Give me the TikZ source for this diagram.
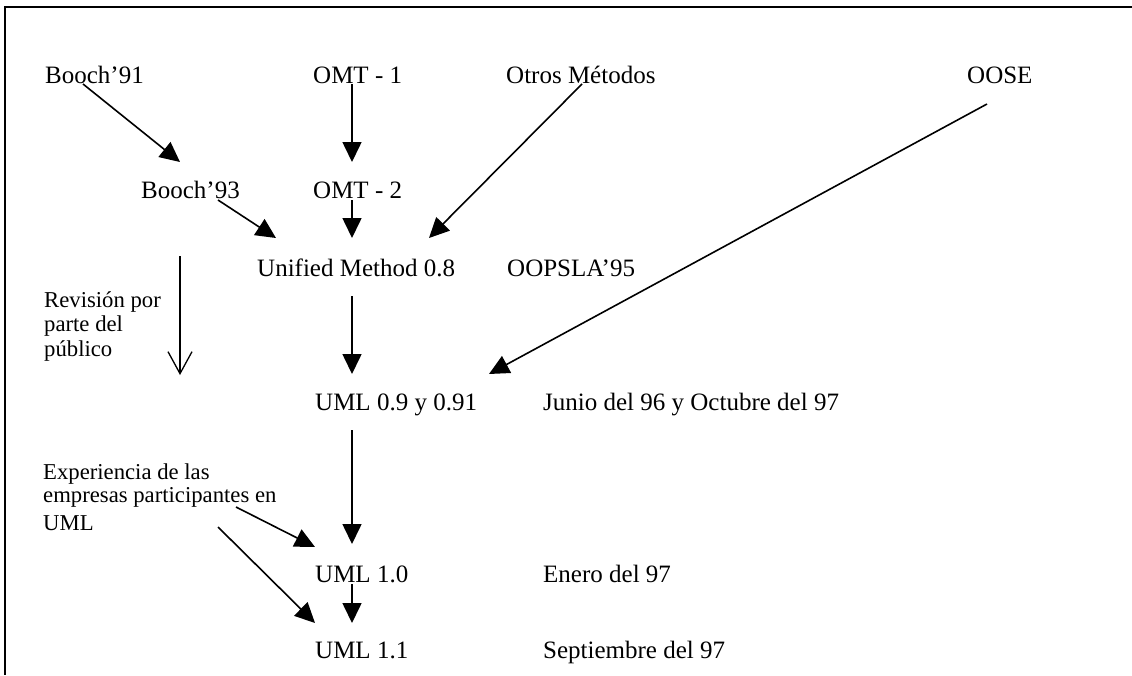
\documentclass[tikz,border=0pt]{standalone}
\usepackage{fontspec}
\setmainfont{Liberation Serif}
\usetikzlibrary{arrows.meta}
\begin{document}
\begin{tikzpicture}[x=1pt,y=-1pt,
  lbl/.style={anchor=base west,inner sep=0pt,font=\fontsize{25}{30}\selectfont},
  small/.style={anchor=base west,inner sep=0pt},
  arr/.style={line width=1.6pt,-{Triangle[length=20pt,width=19pt]}},
  openarr/.style={line width=1.3pt,-{Straight Barb[length=22pt,width=24pt,line width=1.3pt]}},
  frame/.style={line width=2pt}]
\useasboundingbox (0,0) rectangle (1132,675);
\draw[frame] (1132,7) -- (5,7) -- (5,675);
% nodes
\node[lbl] (b91) at (45,83) {Booch'91};
\node[lbl] (omt1) at (313,83) {OMT - 1};
\node[lbl] (otros) at (506,83) {Otros Métodos};
\node[lbl] (oose) at (967,83) {OOSE};
\node[lbl] (b93) at (141,198) {Booch'93};
\node[lbl] (omt2) at (313,198) {OMT - 2};
\node[lbl] (um) at (257,276) {Unified Method 0.8};
\node[lbl] (oopsla) at (507,276) {OOPSLA'95};
\node[small] (rev) at (44,307) {\fontsize{22.7}{24.5}\selectfont\begin{tabular}[t]{@{}l@{}}Revisión por\\parte del\\público\end{tabular}};
\node[lbl] (uml09) at (315,410) {UML 0.9 y 0.91};
\node[lbl] (junio) at (543,410) {Junio del 96 y Octubre del 97};
\node[small] (exp) at (43,479) {\fontsize{22.7}{23}\selectfont\begin{tabular}[t]{@{}l@{}}Experiencia de las\\empresas participantes en\\[5pt]UML\end{tabular}};
\node[lbl] (uml10) at (315,582) {UML 1.0};
\node[lbl] (enero) at (543,582) {Enero del 97};
\node[lbl] (uml11) at (315,658) {UML 1.1};
\node[lbl] (sept) at (543,658) {Septiembre del 97};
% connectors
\draw[arr] ([shift={(38,1)}]b91.base west) -- ([shift={(39,-36)}]b93.base west);
\draw[arr] ([shift={(39,1)}]omt1.base west) -- ([shift={(39,-36)}]omt2.base west);
\draw[arr] ([shift={(76,1)}]otros.base west) -- ([shift={(172,-38)}]um.base west);
\draw[arr] ([shift={(77,2)}]b93.base west) -- ([shift={(19,-38)}]um.base west);
\draw[arr] ([shift={(39,2)}]omt2.base west) -- ([shift={(95,-38)}]um.base west);
\draw[openarr] ([shift={(136,-51)}]rev.base west) -- ([shift={(136,68)}]rev.base west);
\draw[arr] ([shift={(95,20)}]um.base west) -- ([shift={(37,-36)}]uml09.base west);
\draw[arr] ([shift={(20,21)}]oose.base west) -- ([shift={(174,-36)}]uml09.base west);
\draw[arr] ([shift={(37,20)}]uml09.base west) -- ([shift={(37,-38)}]uml10.base west);
\draw[arr] ([shift={(193,28)}]exp.base west) -- ([shift={(0,-35)}]uml10.base west);
\draw[arr] ([shift={(175,48)}]exp.base west) -- ([shift={(0,-35)}]uml11.base west);
\draw[arr] ([shift={(37,2)}]uml10.base west) -- ([shift={(37,-35)}]uml11.base west);
\end{tikzpicture}
\end{document}
